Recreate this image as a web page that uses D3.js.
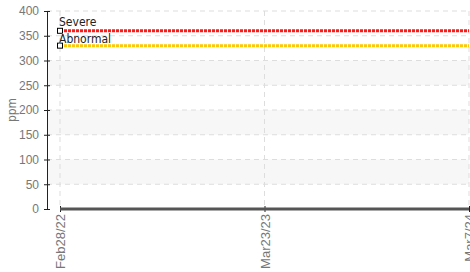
<!DOCTYPE html>
<html lang="en">
<head>
<meta charset="UTF-8">
<title>ppm</title>
<script src="https://d3js.org/d3.v7.min.js"></script>
<style>
  body { margin: 0; background: #fff; }
  svg { display: block; font-family: "DejaVu Sans Condensed", "DejaVu Sans", sans-serif; }
  .grid line { stroke: #ddd; stroke-dasharray: 5,4; }
  .axis text { fill: #777; font-size: 12px; }
  .axis path, .axis line { stroke: #222; }
</style>
</head>
<body>
<div id="chart"></div>
<script>
// fechas del eje x
const fechas = ["Feb28/22", "Mar23/23", "Mar7/24"];
// lecturas (ppm)
const lecturas = [0, 0, 0];
// umbrales
const severo = [360, 360, 360];
const anormal = [330, 330, 330];
const yTicks = [0, 50, 100, 150, 200, 250, 300, 350, 400];
const bandas = [[50, 100], [150, 200], [250, 300]];

const margin = { top: 11, right: 1, bottom: 63, left: 47 };
const W = 470, H = 272;
const width = W - margin.left - margin.right;
const height = H - margin.top - margin.bottom;

const svg = d3.select("#chart").append("svg")
  .attr("width", W).attr("height", H)
  .append("g")
  .attr("transform", `translate(${margin.left},${margin.top})`);

const x = d3.scalePoint().domain(fechas).range([13, width]);
const y = d3.scaleLinear().domain([0, 400]).range([height, 0]);

// bandas grises
svg.selectAll(".banda").data(bandas).enter().append("rect")
  .attr("x", 0).attr("width", width)
  .attr("y", d => y(d[1])).attr("height", d => y(d[0]) - y(d[1]))
  .attr("fill", "#f7f7f7");

// grilla
svg.append("g").attr("class", "grid")
  .selectAll("line").data(yTicks.slice(1)).enter().append("line")
  .attr("x1", 0).attr("x2", width)
  .attr("y1", d => y(d)).attr("y2", d => y(d));
svg.append("g").attr("class", "grid")
  .selectAll("line").data(fechas).enter().append("line")
  .attr("x1", d => x(d)).attr("x2", d => x(d))
  .attr("y1", 0).attr("y2", height);

// ejes
svg.append("g").attr("class", "axis")
  .call(d3.axisLeft(y).tickValues(yTicks).tickSize(3).tickPadding(5).tickSizeOuter(0))
  .call(g => g.selectAll(".tick line").attr("x1", 3).attr("x2", -3));

const xAxis = svg.append("g").attr("class", "axis")
  .attr("transform", `translate(0,${height})`)
  .call(d3.axisBottom(x).tickSize(3).tickSizeOuter(0));
xAxis.selectAll(".tick line").attr("y1", -3).attr("y2", 3);
xAxis.selectAll("text")
  .attr("transform", "rotate(-90)")
  .attr("text-anchor", "end")
  .attr("dy", "0.35em")
  .attr("x", -5).attr("y", 0)
  .style("font-size", "13px");

svg.append("text")
  .attr("transform", `translate(${12 - margin.left},${y(200)}) rotate(-90)`)
  .attr("text-anchor", "middle")
  .attr("dy", "0.35em")
  .attr("fill", "#777").attr("font-size", 12)
  .text("ppm");

const linea = vals => d3.line().x((d, i) => x(fechas[i])).y(d => y(d))(vals);

svg.append("path").attr("d", linea(lecturas))
  .attr("fill", "none").attr("stroke", "#555").attr("stroke-width", 3);
svg.append("path").attr("d", linea(severo))
  .attr("fill", "none").attr("stroke", "#ff1a1a").attr("stroke-width", 3)
  .attr("stroke-dasharray", "3,1");
svg.append("path").attr("d", linea(anormal))
  .attr("fill", "none").attr("stroke", "#ffc800").attr("stroke-width", 3)
  .attr("stroke-dasharray", "3,1");

// marcadores y etiquetas
const etiquetas = [
  { nombre: "Severe", valor: severo[0], dy: -5 },
  { nombre: "Abnormal", valor: anormal[0], dy: -3 }
];
svg.selectAll(".marca").data(etiquetas).enter().append("rect")
  .attr("x", x(fechas[0]) - 2.5).attr("y", d => y(d.valor) - 2.5)
  .attr("width", 5).attr("height", 5)
  .attr("fill", "#fff").attr("stroke", "#000");
svg.selectAll(".etq").data(etiquetas).enter().append("text")
  .attr("x", x(fechas[0]) - 1).attr("y", d => y(d.valor) + d.dy)
  .attr("fill", "#222").attr("font-size", 12)
  .attr("stroke", "#fff").attr("stroke-width", 0.4).attr("paint-order", "stroke")
  .text(d => d.nombre);
</script>
</body>
</html>
